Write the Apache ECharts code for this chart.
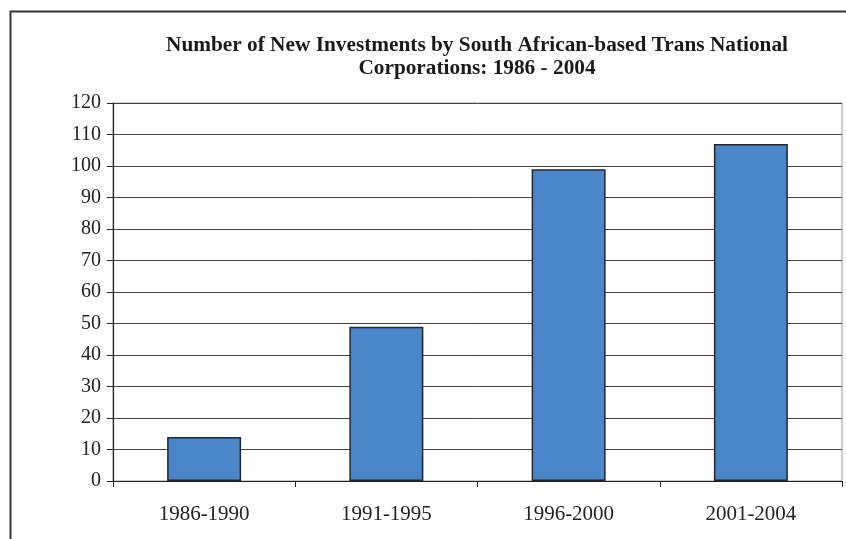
<!DOCTYPE html>
<html>
<head>
<meta charset="utf-8">
<script src="https://cdn.jsdelivr.net/npm/echarts@6/dist/echarts.min.js"></script>
<style>
  html, body { margin: 0; padding: 0; background: #fff; }
  #chart { width: 846px; height: 539px; }
</style>
</head>
<body>
<div id="chart"></div>
<script>
// Periods and number of new investments per period
const periods = ['1986-1990', '1991-1995', '1996-2000', '2001-2004'];
const investments = [14, 49, 99, 107];
const yTicks = { min: 0, max: 120, step: 10 };

const serif = '"Liberation Serif", "Times New Roman", serif';

const chart = echarts.init(document.getElementById('chart'), null, { renderer: 'canvas' });

chart.setOption({
  backgroundColor: '#fff',
  animation: false,
  title: {
    text: 'Number of New Investments by South African-based Trans National\nCorporations: 1986 - 2004',
    left: 472,
    top: 29,
    textAlign: 'center',
    textStyle: {
      fontFamily: serif,
      fontWeight: 'bold',
      fontSize: 21.3,
      lineHeight: 23,
      color: '#1a1a1a'
    }
  },
  graphic: [
    {
      // outer frame around the figure
      type: 'rect',
      shape: { x: 10.5, y: 11.5, width: 900, height: 600 },
      style: { fill: 'none', stroke: '#333', lineWidth: 2 },
      silent: true,
      z: 0
    }
  ],
  grid: {
    left: 113,
    right: 4,
    top: 103,
    bottom: 58,
    show: true,
    borderColor: '#999',
    borderWidth: 1,
    backgroundColor: 'transparent'
  },
  xAxis: {
    type: 'category',
    data: periods,
    boundaryGap: true,
    axisLine: { show: true, lineStyle: { color: '#222', width: 1.2 } },
    axisTick: { show: true, length: 6, alignWithLabel: false, lineStyle: { color: '#222' } },
    axisLabel: {
      fontFamily: serif,
      fontSize: 21,
      color: '#222',
      margin: 23
    },
    splitLine: { show: false }
  },
  yAxis: {
    type: 'value',
    min: yTicks.min,
    max: yTicks.max,
    interval: yTicks.step,
    axisLine: { show: true, lineStyle: { color: '#222', width: 1.2 } },
    axisTick: { show: true, length: 6, lineStyle: { color: '#222' } },
    axisLabel: {
      fontFamily: serif,
      fontSize: 20,
      color: '#222',
      margin: 12
    },
    splitLine: { show: true, lineStyle: { color: '#444', width: 1 } }
  },
  series: [
    {
      type: 'bar',
      data: investments,
      barWidth: '40.6%',
      itemStyle: {
        color: '#4a86c8',
        borderColor: '#262626',
        borderWidth: 1.5
      }
    }
  ]
});
</script>
</body>
</html>
